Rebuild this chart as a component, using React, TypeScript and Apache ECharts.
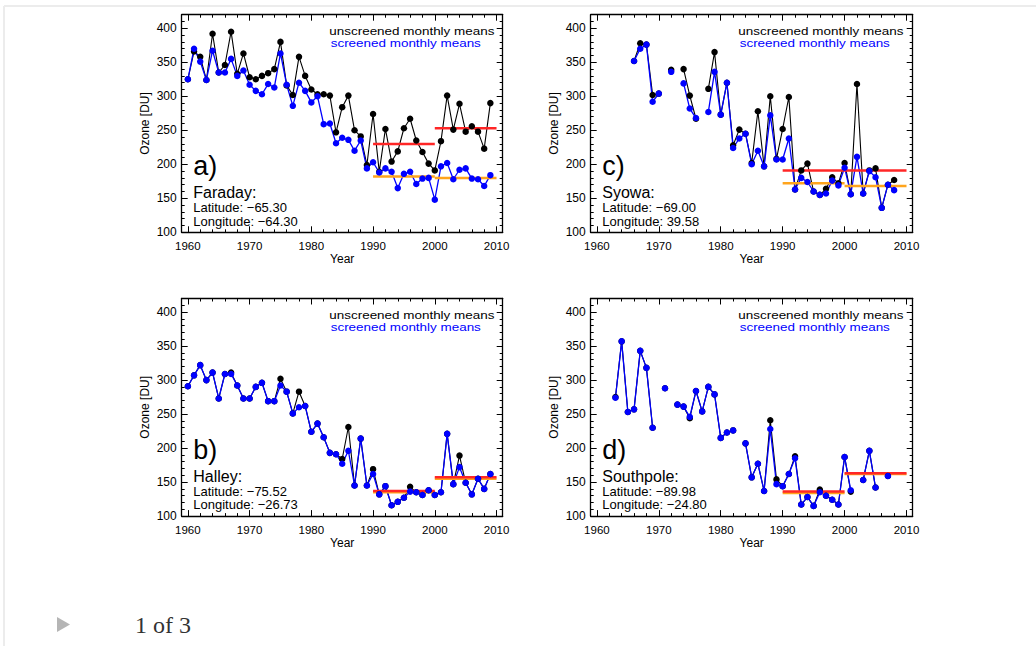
import React, { useEffect, useRef } from "react";
import * as echarts from "echarts";

// ---------------- data ----------------
const faradayStart = 1960;
const faradayUnscreened = [
  325, 366, 358, 324, 392, 335, 346, 395, 333, 363,
  328, 325, 330, 334, 340, 380, 316, 302, 358, 330,
  310, 303, 303, 301, 247, 284, 301, 250, 241, 199,
  274, 189, 252, 204, 219, 253, 267, 235, 218, 201,
  191, 234, 301, 251, 289, 248, 256, 248, 223, 290,
];
const faradayScreened = [
  325, 370, 351, 324, 367, 335, 335, 355, 330, 338,
  317, 308, 303, 318, 313, 363, 317, 286, 320, 308,
  291, 300, 259, 260, 231, 239, 236, 220, 235, 194,
  203, 188, 194, 189, 165, 186, 189, 171, 179, 180,
  148, 197, 202, 178, 192, 194, 179, 178, 168, 184,
];
const faradayRed = [[1990, 2000, 230], [2000, 2010, 253]];
const faradayOrange = [[1990, 2000, 182], [2000, 2010, 180]];

const syowaStart = 1966;
const syowaUnscreened = [
  352, 378, 376, 302, 304, null, 339, null, 340, 301,
  267, null, 311, 365, 273, 320, 228, 251, 245, 202,
  278, 197, 300, 208, 252, 299, 163, 191, 201, 160,
  155, 164, 181, 172, 202, 156, 318, 157, 191, 194,
  136, 170, 177,
];
const syowaScreened = [
  352, 370, 376, 292, 304, null, 336, null, 319, 282,
  268, null, 277, 336, 273, 320, 224, 238, 245, 200,
  220, 197, 272, 207, 207, 238, 163, 180, 174, 160,
  155, 157, 176, 169, 195, 156, 211, 157, 190, 181,
  136, 170, 162,
];
const syowaRed = [[1990, 2010, 191]];
const syowaOrange = [[1990, 2000, 172], [2000, 2010, 168]];

const halleyStart = 1960;
const halleyUnscreened = [
  291, 307, 322, 300, 311, 273, 309, 311, 292, 273,
  273, 290, 296, 269, 269, 302, 283, 251, 283, 262,
  224, 236, 216, 193, 191, 184, 231, 145, 214, 145,
  169, 132, 144, 116, 121, 127, 143, 135, 131, 138,
  131, 135, 221, 147, 189, 149, 132, 155, 140, 162,
];
const halleyScreened = [
  291, 307, 322, 300, 311, 273, 309, 309, 292, 273,
  273, 290, 296, 269, 269, 292, 283, 251, 260, 262,
  224, 236, 216, 193, 191, 177, 196, 145, 214, 145,
  162, 132, 144, 116, 121, 127, 136, 135, 131, 138,
  131, 135, 221, 147, 172, 149, 132, 155, 140, 162,
];
const halleyRed = [[1990, 2000, 137], [2000, 2010, 157]];
const halleyOrange = [[1990, 2000, 135], [2000, 2010, 155]];

const southpoleStart = 1963;
const southpoleUnscreened = [
  275, 357, 253, 257, 343, 318, 230, null, 288, null,
  264, 261, 244, 284, 254, 290, 279, 215, 223, 226,
  null, 207, 157, 177, 137, 241, 154, 144, 162, 188,
  117, 128, 115, 139, 130, 124, 117, 187, 136, null,
  153, 196, 142, null, 159,
];
const southpoleScreened = [
  274, 357, 253, 257, 343, 318, 230, null, 288, null,
  264, 261, 246, 284, 254, 290, 279, 215, 223, 226,
  null, 207, 157, 177, 137, 228, 147, 144, 162, 185,
  117, 128, 115, 135, 130, 124, 117, 187, 138, null,
  153, 196, 142, null, 159,
];
const southpoleRed = [[1990, 2000, 136], [2000, 2010, 163]];
const southpoleOrange = [[1990, 2000, 134], [2000, 2010, 162]];

const panelLetters = ["a)", "c)", "b)", "d)"];
const stationNames = ["Faraday:", "Syowa:", "Halley:", "Southpole:"];
const latitudes = ["Latitude: \u221265.30", "Latitude: \u221269.00", "Latitude: \u221275.52", "Latitude: \u221289.98"];
const longitudes = ["Longitude: \u221264.30", "Longitude: 39.58", "Longitude: \u221226.73", "Longitude: \u221224.80"];
const legendTexts = ["unscreened monthly means", "screened monthly means"];

const xTickLabels = [1960, 1970, 1980, 1990, 2000, 2010];
const xMinorTicks = [1962, 1964, 1966, 1968, 1972, 1974, 1976, 1978, 1982, 1984, 1986, 1988, 1992, 1994, 1996, 1998, 2002, 2004, 2006, 2008];
const yTickLabels = [100, 150, 200, 250, 300, 350, 400];
const yMinorTicks = [110, 120, 130, 140, 160, 170, 180, 190, 210, 220, 230, 240, 260, 270, 280, 290, 310, 320, 330, 340, 360, 370, 380, 390, 410];

// ---------------- layout ----------------
const FONT = "'Liberation Sans', Arial, Helvetica, sans-serif";
const GRIDS = [
  { left: 181.7, top: 14.7, width: 321, height: 217.6 },
  { left: 590.7, top: 14.7, width: 322, height: 217.6 },
  { left: 181.7, top: 298.5, width: 321, height: 217.6 },
  { left: 590.7, top: 298.5, width: 322, height: 217.6 },
];
const BLACK = "#000000";
const BLUE = "#0000ff";
const RED = "#ff2626";
const ORANGE = "#ffa41c";

const panels = [
  { start: faradayStart, un: faradayUnscreened, sc: faradayScreened, red: faradayRed, orange: faradayOrange },
  { start: syowaStart, un: syowaUnscreened, sc: syowaScreened, red: syowaRed, orange: syowaOrange },
  { start: halleyStart, un: halleyUnscreened, sc: halleyScreened, red: halleyRed, orange: halleyOrange },
  { start: southpoleStart, un: southpoleUnscreened, sc: southpoleScreened, red: southpoleRed, orange: southpoleOrange },
];

function toPairs(start: number, vals: (number | null)[]) {
  return vals.map((v, i) => [start + i, v === null ? "-" : v]);
}

const plainNumber = (v: number) => String(v);

function buildOption() {
  const grid: any[] = [];
  const xAxis: any[] = [];
  const yAxis: any[] = [];
  const series: any[] = [];
  const graphic: any[] = [];
  const axisLineStyle = { color: BLACK, width: 1.3 };

  GRIDS.forEach((g, gi) => {
    grid.push({ ...g, containLabel: false, outerBoundsMode: "none" });
    const xi = xAxis.length;
    const xCommon = {
      type: "value", gridIndex: gi, min: 1959, max: 2011,
      splitLine: { show: false }, minorTick: { show: false },
    };
    xAxis.push({
      ...xCommon, position: "bottom",
      axisLine: { show: true, onZero: false, lineStyle: axisLineStyle },
      axisTick: { show: true, inside: true, length: 6, customValues: xTickLabels, lineStyle: { color: BLACK, width: 1 } },
      axisLabel: { show: true, customValues: xTickLabels, formatter: plainNumber, color: BLACK, fontSize: 11.5, fontFamily: FONT, margin: 8 },
      name: "Year", nameLocation: "middle", nameGap: 21,
      nameTextStyle: { color: BLACK, fontSize: 12, fontFamily: FONT },
    });
    xAxis.push({
      ...xCommon, position: "bottom",
      axisLine: { show: false, onZero: false },
      axisTick: { show: true, inside: true, length: 3, customValues: xMinorTicks, lineStyle: { color: BLACK, width: 1 } },
      axisLabel: { show: false },
    });
    xAxis.push({
      ...xCommon, position: "top",
      axisLine: { show: true, onZero: false, lineStyle: axisLineStyle },
      axisTick: { show: true, inside: true, length: 6, customValues: xTickLabels, lineStyle: { color: BLACK, width: 1 } },
      axisLabel: { show: false },
    });
    xAxis.push({
      ...xCommon, position: "top",
      axisLine: { show: false, onZero: false },
      axisTick: { show: true, inside: true, length: 3, customValues: xMinorTicks, lineStyle: { color: BLACK, width: 1 } },
      axisLabel: { show: false },
    });

    const yi = yAxis.length;
    const yCommon = {
      type: "value", gridIndex: gi, min: 100, max: 420, interval: 50,
      splitLine: { show: false }, minorTick: { show: false },
    };
    yAxis.push({
      ...yCommon, position: "left",
      axisLine: { show: true, onZero: false, lineStyle: axisLineStyle },
      axisTick: { show: true, inside: true, length: 6, customValues: yTickLabels, lineStyle: { color: BLACK, width: 1 } },
      axisLabel: { show: true, customValues: yTickLabels, formatter: plainNumber, color: BLACK, fontSize: 12, fontFamily: FONT, margin: 5 },
      name: "Ozone [DU]", nameLocation: "middle", nameGap: 31, nameRotate: 90,
      nameTextStyle: { color: BLACK, fontSize: 12, fontFamily: FONT },
    });
    yAxis.push({
      ...yCommon, position: "left",
      axisLine: { show: false, onZero: false },
      axisTick: { show: true, inside: true, length: 3, customValues: yMinorTicks, lineStyle: { color: BLACK, width: 1 } },
      axisLabel: { show: false },
    });
    yAxis.push({
      ...yCommon, position: "right",
      axisLine: { show: true, onZero: false, lineStyle: axisLineStyle },
      axisTick: { show: true, inside: true, length: 6, customValues: yTickLabels, lineStyle: { color: BLACK, width: 1 } },
      axisLabel: { show: false },
    });
    yAxis.push({
      ...yCommon, position: "right",
      axisLine: { show: false, onZero: false },
      axisTick: { show: true, inside: true, length: 3, customValues: yMinorTicks, lineStyle: { color: BLACK, width: 1 } },
      axisLabel: { show: false },
    });

    const p = panels[gi];
    series.push({
      type: "line", xAxisIndex: xi, yAxisIndex: yi, data: toPairs(p.start, p.un),
      connectNulls: false, symbol: "circle", symbolSize: 6.5, showAllSymbol: true,
      lineStyle: { color: BLACK, width: 1.1 }, itemStyle: { color: BLACK }, silent: true,
    });
    series.push({
      type: "line", xAxisIndex: xi, yAxisIndex: yi, data: toPairs(p.start, p.sc),
      connectNulls: false, symbol: "circle", symbolSize: 6.5, showAllSymbol: true,
      lineStyle: { color: BLUE, width: 1.3 }, itemStyle: { color: BLUE }, silent: true,
    });
    p.orange.forEach((s) => {
      series.push({
        type: "line", xAxisIndex: xi, yAxisIndex: yi, data: [[s[0], s[2]], [s[1], s[2]]],
        symbol: "none", lineStyle: { color: ORANGE, width: 2.5 }, silent: true,
      });
    });
    p.red.forEach((s) => {
      series.push({
        type: "line", xAxisIndex: xi, yAxisIndex: yi, data: [[s[0], s[2]], [s[1], s[2]]],
        symbol: "none", lineStyle: { color: RED, width: 2.5 }, silent: true,
      });
    });

    const tx = g.left + 11.6;
    graphic.push({ type: "text", x: tx, y: g.top + 151, style: { text: panelLetters[gi], fontSize: 27, fontFamily: FONT, fill: BLACK, verticalAlign: "middle" } });
    graphic.push({ type: "text", x: tx, y: g.top + 178, style: { text: stationNames[gi], fontSize: 16, fontFamily: FONT, fill: BLACK, verticalAlign: "middle" } });
    graphic.push({ type: "text", x: tx, y: g.top + 192.5, style: { text: latitudes[gi], fontSize: 13, fontFamily: FONT, fill: BLACK, verticalAlign: "middle" } });
    graphic.push({ type: "text", x: tx, y: g.top + 206.3, style: { text: longitudes[gi], fontSize: 13, fontFamily: FONT, fill: BLACK, verticalAlign: "middle" } });
    graphic.push({ type: "text", x: g.left + 147.6, y: g.top + 17, scaleX: 1.17, style: { text: legendTexts[0], fontSize: 11.5, fontFamily: FONT, fill: BLACK, verticalAlign: "middle" } });
    graphic.push({ type: "text", x: g.left + 149, y: g.top + 28.5, scaleX: 1.17, style: { text: legendTexts[1], fontSize: 11.5, fontFamily: FONT, fill: BLUE, verticalAlign: "middle" } });
  });

  // page frame, pager
  graphic.push({ type: "line", shape: { x1: 4, y1: 6, x2: 1036, y2: 6 }, style: { stroke: "#ececec", lineWidth: 2 } });
  graphic.push({ type: "line", shape: { x1: 4, y1: 6, x2: 4, y2: 646 }, style: { stroke: "#ececec", lineWidth: 2 } });
  graphic.push({ type: "polygon", shape: { points: [[57, 617], [70, 624.5], [57, 632]] }, style: { fill: "#b5b5b5" } });
  graphic.push({ type: "text", x: 135, y: 625, style: { text: "1 of 3", fontSize: 24, fontFamily: "'Liberation Serif', 'Times New Roman', serif", fill: "#333333", verticalAlign: "middle" } });

  return { animation: false, backgroundColor: "#ffffff", grid, xAxis, yAxis, series, graphic };
}

export default function App() {
  const ref = useRef<HTMLDivElement>(null);
  useEffect(() => {
    if (!ref.current) return;
    const chart = echarts.init(ref.current, undefined, { renderer: "svg" });
    chart.setOption(buildOption() as any);
    return () => chart.dispose();
  }, []);
  return (
    <div
      ref={ref}
      style={{ position: "absolute", left: 0, top: 0, width: 1036, height: 646, background: "#fff" }}
    />
  );
}
